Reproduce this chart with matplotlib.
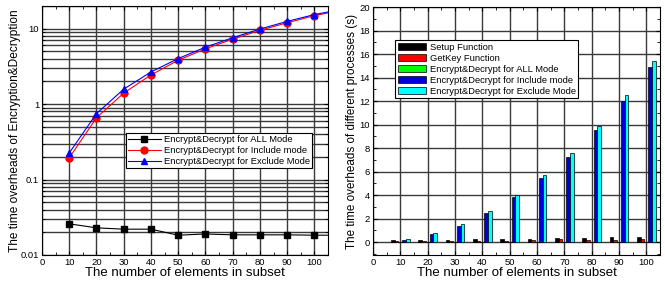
import numpy as np
import matplotlib
matplotlib.use("Agg")
import matplotlib.pyplot as plt
from matplotlib.ticker import MultipleLocator, LogLocator, FixedLocator

plt.rcParams['font.family'] = ['Liberation Sans', 'DejaVu Sans']

# subset sizes (last point only shows as the line running off the right edge)
n = [10, 20, 30, 40, 50, 60, 70, 80, 90, 100, 110]
setup_t = [0.15, 0.17, 0.2, 0.22, 0.27, 0.3, 0.34, 0.38, 0.42, 0.45, 0.47]
getkey_t = [0.08, 0.1, 0.1, 0.12, 0.13, 0.17, 0.22, 0.2, 0.2, 0.23, 0.24]
all_t = [0.0259, 0.0229, 0.022, 0.022, 0.0183, 0.019, 0.0185, 0.0185, 0.0185, 0.0183, 0.0183]
include_t = [0.194, 0.66, 1.40, 2.44, 3.82, 5.41, 7.28, 9.5, 12.0, 14.9, 17.6]
exclude_t = [0.225, 0.75, 1.58, 2.67, 4.02, 5.7, 7.59, 9.9, 12.5, 15.4, 18.0]

fig = plt.figure(figsize=(6.65, 2.86), dpi=100)
ax = fig.add_axes([42/665, 31/286, 286/665, 249/286])
ax2 = fig.add_axes([373/665, 31/286, 287/665, 248/286])

grid_c = '#3a3a3a'

# left: log plot
ax.plot(n, all_t, '-s', color='black', ms=4.5, lw=0.8, label='Encrypt&Decrypt for ALL Mode')
ax.plot(n, include_t, '-o', color='red', ms=5, lw=0.8, label='Encrypt&Decrypt for Include mode')
ax.plot(n, exclude_t, '-^', color='blue', ms=5, lw=0.8, label='Encrypt&Decrypt for Exclude Mode')
ax.set_yscale('log')
ax.set_xlim(0, 105)
ax.set_ylim(0.01, 20)
ax.xaxis.set_major_locator(MultipleLocator(10))
ax.xaxis.set_minor_locator(MultipleLocator(5))
ax.yaxis.set_major_locator(FixedLocator([0.01, 0.1, 1, 10]))
ax.yaxis.set_minor_locator(LogLocator(subs=np.arange(2, 10), numticks=20))
ax.set_yticklabels(['0.01', '0.1', '1', '10'])
ax.grid(True, which='major', color=grid_c, lw=1.0)
ax.grid(True, which='minor', axis='y', color=grid_c, lw=1.0)
ax.set_axisbelow(True)
ax.tick_params(which='both', direction='in', top=True, right=True, labelsize=6.8, pad=2)
ax.tick_params(which='major', length=3)
ax.tick_params(which='minor', length=2, labelleft=False)
ax.set_xlabel('The number of elements in subset', fontsize=9.5, labelpad=0)
ax.set_ylabel('The time overheads of Encryption&Decryption', fontsize=8.6, labelpad=0)
leg = ax.legend(loc='lower right', bbox_to_anchor=(0.96, 0.33), fontsize=6.75,
                frameon=True, fancybox=False, edgecolor='black', framealpha=1,
                borderpad=0.25, labelspacing=0.2, handlelength=3.5, handletextpad=0.3)
leg.get_frame().set_linewidth(0.8)

# right: grouped bars
x = np.array(n, dtype=float)
w = 1.35
series = [
    (setup_t, 'black', 'Setup Function'),
    (getkey_t, 'red', 'GetKey Function'),
    (all_t, '#00ff00', 'Encrypt&Decrypt for ALL Mode'),
    (include_t, '#0000dd', 'Encrypt&Decrypt for Include mode'),
    (exclude_t, '#00ffff', 'Encrypt&Decrypt for Exclude Mode'),
]
for i, (vals, c, lab) in enumerate(series):
    ax2.bar(x + (i - 2) * w, vals, width=w, color=c, edgecolor='black', lw=0.5, label=lab)
ax2.set_xlim(0, 105)
ax2.set_ylim(-1.1, 20)
ax2.xaxis.set_major_locator(MultipleLocator(10))
ax2.xaxis.set_minor_locator(MultipleLocator(5))
ax2.yaxis.set_major_locator(MultipleLocator(2))
ax2.yaxis.set_minor_locator(MultipleLocator(1))
ax2.grid(True, which='major', color=grid_c, lw=1.0)
ax2.set_axisbelow(True)
ax2.tick_params(which='both', direction='in', top=True, right=True, labelsize=6.8, pad=2)
ax2.tick_params(which='major', length=3)
ax2.tick_params(which='minor', length=2)
ax2.set_xlabel('The number of elements in subset', fontsize=9.5, labelpad=0)
ax2.set_ylabel('The time overheads of different processes (s)', fontsize=8.4, labelpad=1)
leg2 = ax2.legend(loc='upper left', bbox_to_anchor=(0.06, 0.885), fontsize=6.75,
                  frameon=True, fancybox=False, edgecolor='black', framealpha=1,
                  borderpad=0.3, labelspacing=0.2, handlelength=3.0, handleheight=0.8,
                  handletextpad=0.4)
leg2.get_frame().set_linewidth(0.8)

fig.savefig('out.png', dpi=100)
